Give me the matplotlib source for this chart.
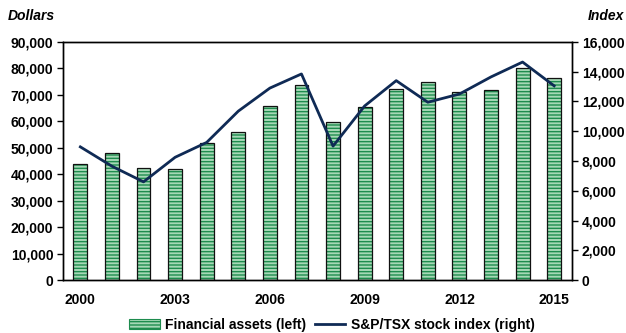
import numpy as np
import matplotlib.pyplot as plt
from matplotlib.patches import Patch
from matplotlib.lines import Line2D

plt.rcParams['font.family'] = ['Liberation Sans', 'DejaVu Sans']
plt.rcParams['hatch.linewidth'] = 1.0

years = list(range(2000, 2016))
financial_assets = [44000, 48000, 42500, 41800, 51800, 56000, 65800, 73700,
                    59700, 65400, 72200, 74900, 71100, 71800, 80200, 76400]
tsx_index = [8950, 7650, 6600, 8250, 9250, 11350, 12900, 13850,
             9000, 11700, 13400, 11950, 12500, 13650, 14650, 13050]
xtick_years = [2000, 2003, 2006, 2009, 2012, 2015]

bar_fill = '#a6d8b6'
stripe = '#1e8c4e'
navy = '#0f2a55'
fs = 10

fig = plt.figure(figsize=(6.26, 3.33), dpi=100)
ax = fig.add_axes([0.1006, 0.159, 0.8134, 0.715])
ax2 = ax.twinx()

# striped fill first, then a black outline on top
ax.bar(years, financial_assets, width=0.44, color=bar_fill, edgecolor=stripe,
       hatch='-----', linewidth=0, zorder=2)
ax.bar(years, financial_assets, width=0.44, fill=False, edgecolor='#111111',
       linewidth=0.9, zorder=3)

ax2.plot(years, tsx_index, color=navy, linewidth=2.0, zorder=4)

ax.set_xlim(1999.45, 2015.57)
ax.set_ylim(0, 90000)
ax2.set_ylim(0, 16000)

ax.set_yticks(np.arange(0, 90001, 10000))
ax.set_yticklabels([f'{v:,}' for v in range(0, 90001, 10000)])
ax2.set_yticks(np.arange(0, 16001, 2000))
ax2.set_yticklabels([f'{v:,}' for v in range(0, 16001, 2000)])
ax.set_xticks(xtick_years)
ax.set_xticklabels([str(y) for y in xtick_years])

for a in (ax, ax2):
    for s in a.spines.values():
        s.set_color('black')
        s.set_linewidth(1.0)
    a.tick_params(labelsize=fs, width=1.0, length=4, colors='black', pad=3)
    for lbl in a.get_yticklabels():
        lbl.set_fontweight('bold')
ax.tick_params(axis='x', length=0, pad=9)
for lbl in ax.get_xticklabels():
    lbl.set_fontweight('bold')

ax.set_zorder(ax2.get_zorder() - 1)
ax2.patch.set_visible(False)

fig.text(0.013, 0.94, 'Dollars', fontsize=fs, fontweight='bold', style='italic')
fig.text(0.997, 0.94, 'Index', fontsize=fs, fontweight='bold', style='italic', ha='right')

handles = [Patch(facecolor=bar_fill, edgecolor=stripe, hatch='-----', linewidth=0.8),
           Line2D([0], [0], color=navy, linewidth=2.0)]
fig.legend(handles, ['Financial assets (left)', 'S&P/TSX stock index (right)'],
           loc='center', bbox_to_anchor=(0.53, 0.025), ncol=2, frameon=False,
           prop={'weight': 'bold', 'size': fs}, handlelength=2.2,
           handletextpad=0.4, columnspacing=0.6)

fig.savefig('out.png', dpi=100)
